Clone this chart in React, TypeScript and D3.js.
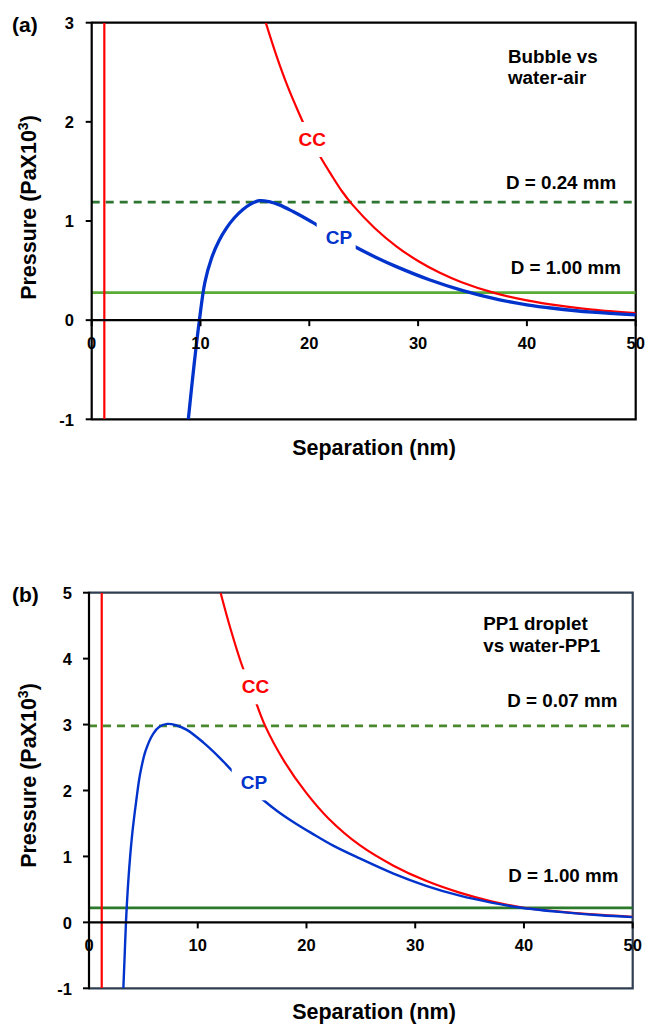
import React from "react";
import * as d3 from "d3";

// Separation (nm) tick values shared by both panels
const xTicks = [0, 10, 20, 30, 40, 50];
const yTicksA = [-1, 0, 1, 2, 3];
const yTicksB = [-1, 0, 1, 2, 3, 4, 5];

// Panel (a): bubble vs water-air — [separation nm, pressure PaX10^3]
const ccA: [number, number][] = [
  [16.0, 3.0], [17.0, 2.66], [18.0, 2.36], [19.0, 2.1], [20.0, 1.86], [21.0, 1.65],
  [22.0, 1.47], [23.0, 1.3], [24.0, 1.16], [26.0, 0.93], [28.0, 0.745], [30.0, 0.597],
  [32.0, 0.478], [34.0, 0.383], [37.0, 0.275], [40.0, 0.2], [43.0, 0.146], [46.0, 0.107],
  [50.0, 0.07],
];
const cpA: [number, number][] = [
  [8.88, -1], [9.4, -0.46], [9.9, 0], [10.4, 0.38], [11.0, 0.62], [11.7, 0.8], [12.4, 0.93],
  [13.1, 1.03], [13.9, 1.115], [14.6, 1.17], [15.4, 1.205], [16.3, 1.195], [17.3, 1.16],
  [18.5, 1.095], [19.6, 1.03], [20.7, 0.96], [22.4, 0.85], [24.2, 0.74], [26.0, 0.64],
  [28.0, 0.54], [31.1, 0.405], [34.2, 0.295], [37.5, 0.205], [40.0, 0.155], [42.4, 0.12],
  [46.0, 0.08], [50.0, 0.053],
];
const ccWallA = 1.16;
const criticalA = 1.19; // D = 0.24 mm
const largeA = 0.278; // D = 1.00 mm

// Panel (b): PP1 droplet vs water-PP1
const ccB: [number, number][] = [
  [12.1, 5.0], [13.0, 4.46], [14.0, 3.93], [15.0, 3.5], [16.2, 2.98], [18.0, 2.43],
  [20.0, 1.96], [22.0, 1.58], [24.9, 1.17], [28.0, 0.86], [31.0, 0.63], [34.0, 0.455],
  [37.0, 0.32], [40.0, 0.222], [43.0, 0.167], [46.0, 0.125], [50.0, 0.085],
];
const cpB: [number, number][] = [
  [3.16, -1], [3.28, -0.5], [3.4, 0], [3.62, 0.64], [3.95, 1.3], [4.35, 1.85], [4.7, 2.25],
  [5.2, 2.6], [5.9, 2.86], [6.5, 2.97], [7.2, 3.01], [8.0, 2.99], [9.0, 2.92], [10.5, 2.73],
  [12.0, 2.5], [13.1, 2.31], [14.5, 2.08], [16.0, 1.86], [17.3, 1.69], [19.0, 1.5],
  [20.5, 1.35], [22.5, 1.16], [24.9, 0.97], [28.0, 0.74], [31.0, 0.555], [34.1, 0.405],
  [37.0, 0.3], [39.9, 0.218], [44.0, 0.148], [47.0, 0.108], [50.0, 0.08],
];
const ccWallB = 1.17;
const criticalB = 2.98; // D = 0.07 mm
const largeB = 0.22; // D = 1.00 mm

const FONT = "'Liberation Sans', Arial, Helvetica, sans-serif";
const RED = "#ff0000";
const BLUE = "#0033cc";

type Label = { text: string; x: number; y: number };
type PanelProps = {
  id: string;
  tag: string;
  left: number;
  right: number;
  top: number;
  bottom: number;
  yDomain: [number, number];
  yTicks: number[];
  frame: string;
  cc: [number, number][];
  cp: [number, number][];
  wall: number;
  critical: number;
  large: number;
  dashColor: string;
  solidColor: string;
  cpWidth: number;
  titleLines: Label[];
  dLabels: Label[];
  ccLabel: Label;
  cpLabel: Label;
  yLabelRight: number;
  yTitleCenter: number;
  xTitleBaseline: number;
};

function CurveLabel({ l, color }: { l: Label; color: string }) {
  const w = 27;
  return (
    <g>
      <rect x={l.x - 9} y={l.y - 24} width={w + 12} height={35} fill="#fff" />
      <text x={l.x} y={l.y} fill={color} fontSize={19} fontWeight="bold" fontFamily={FONT}>
        {l.text}
      </text>
    </g>
  );
}

function Panel(p: PanelProps) {
  const x = d3.scaleLinear().domain([0, 50]).range([p.left, p.right]);
  const y = d3.scaleLinear().domain(p.yDomain).range([p.bottom, p.top]);
  const line = d3
    .line<[number, number]>()
    .x((d) => x(d[0]))
    .y((d) => y(d[1]))
    .curve(d3.curveCatmullRom.alpha(0.5));
  const clipId = `clip-${p.id}`;
  const y0 = y(0);
  return (
    <g>
      <defs>
        <clipPath id={clipId}>
          <rect x={p.left} y={p.top} width={p.right - p.left} height={p.bottom - p.top} />
        </clipPath>
      </defs>

      {/* frame: top, right, bottom */}
      <path
        d={`M${p.left},${p.top}H${p.right}V${p.bottom}H${p.left}`}
        fill="none"
        stroke={p.frame}
        strokeWidth={2.2}
      />

      <g clipPath={`url(#${clipId})`}>
        {/* reference pressure levels */}
        <line x1={p.left} x2={p.right} y1={y(p.critical)} y2={y(p.critical)}
          stroke={p.dashColor} strokeWidth={2.8} strokeDasharray="8,6" />
        <line x1={p.left} x2={p.right} y1={y(p.large)} y2={y(p.large)}
          stroke={p.solidColor} strokeWidth={2.6} />
        {/* CC asymptote near contact */}
        <line x1={x(p.wall)} x2={x(p.wall)} y1={p.top} y2={p.bottom} stroke={RED} strokeWidth={2.2} />
        <path d={line(p.cc) ?? ""} fill="none" stroke={RED} strokeWidth={2.2} />
        <path d={line(p.cp) ?? ""} fill="none" stroke={BLUE} strokeWidth={p.cpWidth} />
      </g>

      <CurveLabel l={p.ccLabel} color={RED} />
      <CurveLabel l={p.cpLabel} color={BLUE} />

      {/* x axis along zero pressure */}
      <line x1={p.left} x2={p.right} y1={y0} y2={y0} stroke="#000" strokeWidth={2.2} />
      {xTicks.map((t) => (
        <g key={`xt${t}`}>
          <line x1={x(t)} x2={x(t)} y1={y0} y2={y0 + 6} stroke="#000" strokeWidth={2} />
          <text x={x(t)} y={y0 + 28.5} textAnchor="middle" fontSize={16.5} fontWeight="bold" fontFamily={FONT}>
            {t}
          </text>
        </g>
      ))}

      {/* y axis */}
      <line x1={p.left} x2={p.left} y1={p.top - 1} y2={p.bottom + 1} stroke="#000" strokeWidth={2.2} />
      {p.yTicks.map((t) => (
        <g key={`yt${t}`}>
          <line x1={p.left - 6} x2={p.left} y1={y(t)} y2={y(t)} stroke="#000" strokeWidth={2} />
          <text x={p.yLabelRight} y={y(t) + 6.2} textAnchor="end" fontSize={16.5} fontWeight="bold" fontFamily={FONT}>
            {t}
          </text>
        </g>
      ))}

      {/* annotations */}
      {p.titleLines.concat(p.dLabels).map((l, i) => (
        <text key={`an${i}`} x={l.x} y={l.y} fontSize={18.8} fontWeight="bold" fontFamily={FONT}>
          {l.text}
        </text>
      ))}

      <text x={12} y={p.top + 9} fontSize={21} fontWeight="bold" fontFamily={FONT}>
        {p.tag}
      </text>

      <text
        transform={`translate(36,${p.yTitleCenter}) rotate(-90)`}
        textAnchor="middle"
        fontSize={21.5}
        fontWeight="bold"
        fontFamily={FONT}
      >
        Pressure (PaX10
        <tspan fontSize={14} dy={-8}>3</tspan>
        <tspan dy={8}>)</tspan>
      </text>

      <text x={374} y={p.xTitleBaseline} textAnchor="middle" fontSize={21.5} fontWeight="bold" fontFamily={FONT}>
        Separation (nm)
      </text>
    </g>
  );
}

export default function App() {
  return (
    <svg
      width={645}
      height={1029}
      style={{ position: "absolute", left: 0, top: 0, background: "#fff" }}
    >
      <rect width={645} height={1029} fill="#fff" />
      <Panel
        id="a"
        tag="(a)"
        left={91.7}
        right={635.7}
        top={22.7}
        bottom={419.3}
        yDomain={[-1, 3]}
        yTicks={yTicksA}
        frame="#000"
        cc={ccA}
        cp={cpA}
        wall={ccWallA}
        critical={criticalA}
        large={largeA}
        dashColor="#2e7532"
        solidColor="#5aab35"
        cpWidth={3.3}
        titleLines={[
          { text: "Bubble vs", x: 508, y: 62.7 },
          { text: "water-air", x: 508, y: 83.5 },
        ]}
        dLabels={[
          { text: "D = 0.24 mm", x: 506, y: 189 },
          { text: "D = 1.00 mm", x: 510.7, y: 274 },
        ]}
        ccLabel={{ text: "CC", x: 298.5, y: 146 }}
        cpLabel={{ text: "CP", x: 325.7, y: 244 }}
        yLabelRight={74}
        yTitleCenter={207.5}
        xTitleBaseline={455}
      />
      <Panel
        id="b"
        tag="(b)"
        left={89}
        right={632.7}
        top={592.7}
        bottom={988.3}
        yDomain={[-1, 5]}
        yTicks={yTicksB}
        frame="#2f3e50"
        cc={ccB}
        cp={cpB}
        wall={ccWallB}
        critical={criticalB}
        large={largeB}
        dashColor="#4b8a2c"
        solidColor="#2b7a2b"
        cpWidth={2.4}
        titleLines={[
          { text: "PP1 droplet", x: 483.3, y: 630 },
          { text: "vs water-PP1", x: 483.3, y: 651.7 },
        ]}
        dLabels={[
          { text: "D = 0.07 mm", x: 507.3, y: 707.3 },
          { text: "D = 1.00 mm", x: 508.3, y: 881.7 },
        ]}
        ccLabel={{ text: "CC", x: 241.7, y: 693.3 }}
        cpLabel={{ text: "CP", x: 240.7, y: 789.3 }}
        yLabelRight={72}
        yTitleCenter={775.5}
        xTitleBaseline={1019}
      />
    </svg>
  );
}
